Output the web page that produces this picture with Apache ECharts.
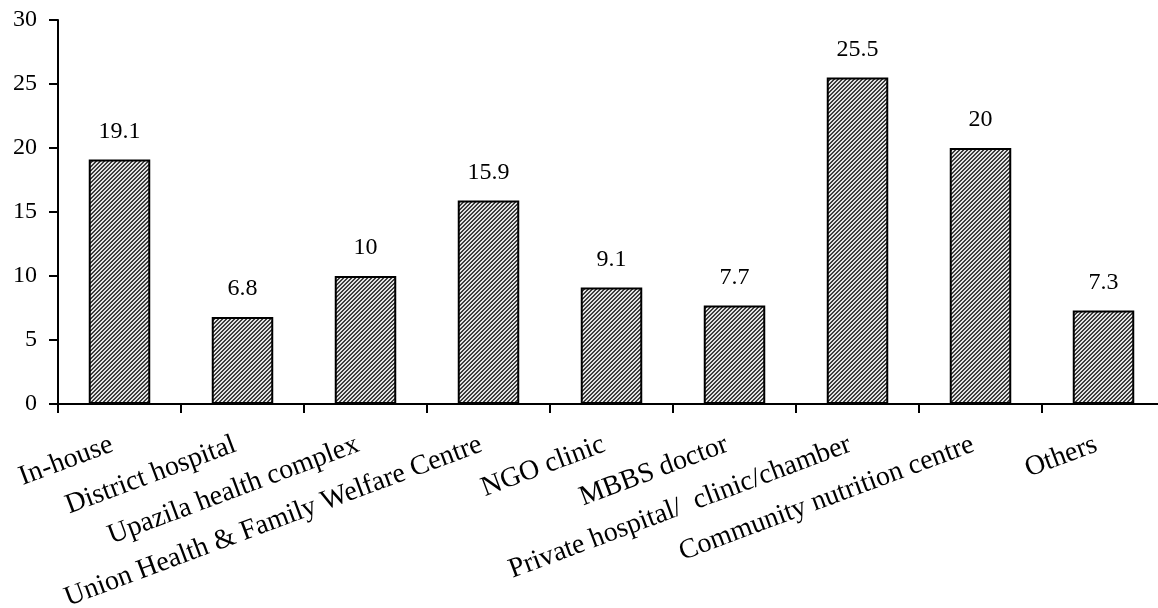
<!DOCTYPE html>
<html>
<head>
<meta charset="utf-8">
<script src="https://cdn.jsdelivr.net/npm/echarts@6/dist/echarts.min.js"></script>
<style>
  html, body { margin: 0; padding: 0; background: #fff; }
  #chart { width: 1158px; height: 608px; }
</style>
</head>
<body>
<div id="chart"></div>
<script>
// Place where care was sought (%)
const categories = [
  'In-house',
  'District hospital',
  'Upazila health complex',
  'Union Health & Family Welfare Centre',
  'NGO clinic',
  'MBBS doctor',
  'Private hospital/  clinic/chamber',
  'Community nutrition centre',
  'Others'
];
const values = [19.1, 6.8, 10, 15.9, 9.1, 7.7, 25.5, 20, 7.3];
const yTicks = [0, 5, 10, 15, 20, 25, 30];

// Fine diagonal hatch used to fill the bars
function hatchPattern() {
  const c = document.createElement('canvas');
  c.width = 4; c.height = 4;
  const ctx = c.getContext('2d');
  ctx.fillStyle = '#e2e2e2';
  ctx.fillRect(0, 0, 4, 4);
  ctx.fillStyle = '#3c3c3c';
  for (let x = 0; x < 4; x++) {
    for (let y = 0; y < 4; y++) {
      const k = (x + y) % 4;
      if (k === 0 || k === 1) ctx.fillRect(x, y, 1, 1);
    }
  }
  return c;
}

const FONT = '"Liberation Serif", "DejaVu Serif", serif';
const chart = echarts.init(document.getElementById('chart'), null, { renderer: 'canvas' });

chart.setOption({
  animation: false,
  backgroundColor: '#ffffff',
  grid: {
    left: 58, right: -7, top: 20, bottom: 204,
    containLabel: false,
    outerBoundsMode: 'none'
  },
  xAxis: {
    type: 'category',
    data: categories,
    boundaryGap: true,
    axisLine: { lineStyle: { color: '#000', width: 2 } },
    axisTick: { show: true, alignWithLabel: false, length: 9, lineStyle: { color: '#000', width: 2 } },
    axisLabel: {
      interval: 0,
      rotate: 20.5,
      margin: 37,
      padding: [0, 8, 0, 0],
      color: '#000',
      fontFamily: FONT,
      fontSize: 28
    },
    splitLine: { show: false }
  },
  yAxis: {
    type: 'value',
    min: yTicks[0],
    max: yTicks[yTicks.length - 1],
    interval: 5,
    axisLine: { show: true, lineStyle: { color: '#000', width: 2 } },
    axisTick: { show: true, length: 9, lineStyle: { color: '#000', width: 2 } },
    axisLabel: {
      margin: 21,
      color: '#000',
      fontFamily: FONT,
      fontSize: 24
    },
    splitLine: { show: false }
  },
  series: [{
    type: 'bar',
    data: values,
    barWidth: '50%',
    itemStyle: {
      color: { image: hatchPattern(), repeat: 'repeat' },
      borderColor: '#000',
      borderWidth: 2
    },
    label: {
      show: true,
      position: 'top',
      distance: 16,
      color: '#000',
      fontFamily: FONT,
      fontSize: 24
    }
  }]
});
</script>
</body>
</html>
